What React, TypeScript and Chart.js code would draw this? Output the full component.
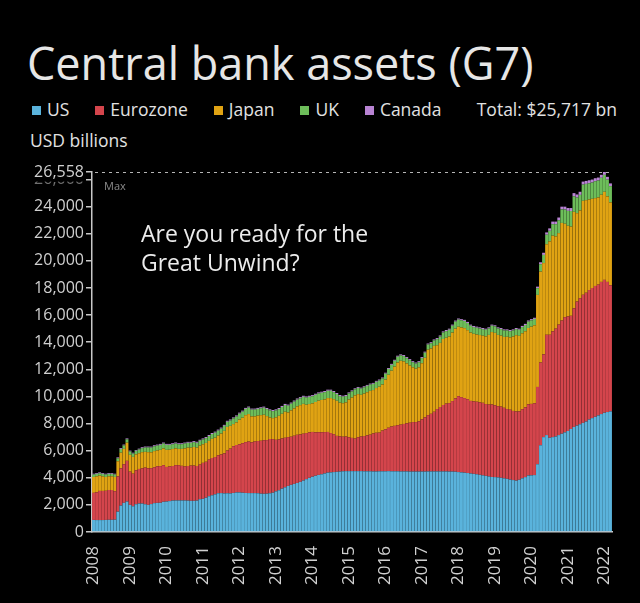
import React, { useEffect, useRef } from "react";
import { Chart, registerables } from "chart.js";

Chart.register(...registerables);

const FONT = '"Open Sans", "Noto Sans", sans-serif';

// Categories: monthly, Jan 2008 .. Mar 2022
const YEARS = [2008, 2009, 2010, 2011, 2012, 2013, 2014, 2015, 2016, 2017, 2018, 2019, 2020, 2021, 2022];
const MONTHS_IN_LAST_YEAR = 3;

// Series values, USD billions (one value per month)
const US = [
  890, 880, 880, 880, 890, 900, 900, 910, 1500, 1950, 2150, 2250,
  2000, 1900, 2050, 2100, 2100, 2050, 2000, 2060, 2130, 2150, 2160, 2230,
  2250, 2280, 2320, 2330, 2330, 2330, 2330, 2320, 2300, 2300, 2320, 2420,
  2450, 2530, 2640, 2710, 2780, 2860, 2870, 2850, 2860, 2850, 2880, 2920,
  2920, 2900, 2880, 2870, 2870, 2870, 2860, 2830, 2820, 2830, 2860, 2900,
  3000, 3080, 3200, 3300, 3400, 3480, 3550, 3620, 3700, 3800, 3900, 4000,
  4080, 4150, 4210, 4260, 4320, 4380, 4400, 4420, 4440, 4460, 4480, 4490,
  4490, 4490, 4490, 4490, 4490, 4480, 4480, 4480, 4470, 4470, 4480, 4480,
  4480, 4490, 4480, 4480, 4480, 4470, 4470, 4470, 4460, 4460, 4460, 4460,
  4460, 4460, 4470, 4470, 4470, 4470, 4470, 4470, 4470, 4460, 4460, 4450,
  4420, 4400, 4380, 4350, 4320, 4290, 4260, 4220, 4180, 4140, 4100, 4060,
  4050, 4030, 4000, 3960, 3920, 3870, 3830, 3790, 3850, 3960, 4050, 4170,
  4180, 4200, 5000, 6400, 7000, 7150, 6950, 7000, 7050, 7150, 7250, 7350,
  7450, 7600, 7750, 7850, 7950, 8050, 8150, 8300, 8400, 8500, 8600, 8700,
  8800, 8850, 8900,
];

const EUROZONE = [
  2000, 2050, 2150, 2150, 2150, 2200, 2200, 2100, 2600, 2750, 2850, 3000,
  2450, 2400, 2500, 2550, 2600, 2700, 2700, 2650, 2650, 2700, 2700, 2700,
  2550, 2550, 2550, 2600, 2600, 2550, 2500, 2550, 2600, 2600, 2550, 2550,
  2650, 2650, 2700, 2750, 2750, 2800, 2850, 2950, 3150, 3300, 3450, 3500,
  3550, 3650, 3750, 3800, 3750, 3800, 3850, 3900, 3950, 3950, 4000, 3950,
  3800, 3750, 3700, 3650, 3600, 3550, 3550, 3550, 3500, 3450, 3400, 3350,
  3300, 3200, 3150, 3100, 3050, 3000, 2900, 2800, 2650, 2600, 2550, 2550,
  2500, 2450, 2400, 2500, 2550, 2600, 2650, 2700, 2800, 2850, 2850, 3000,
  3100, 3200, 3300, 3350, 3400, 3450, 3500, 3550, 3600, 3650, 3650, 3700,
  3850, 4000, 4150, 4250, 4400, 4600, 4750, 4900, 5000, 5050, 5200, 5400,
  5600, 5550, 5500, 5450, 5350, 5350, 5350, 5350, 5350, 5300, 5300, 5350,
  5300, 5250, 5250, 5200, 5150, 5150, 5100, 5100, 5050, 5100, 5150, 5250,
  5270, 5300, 5700, 6100, 6100, 7400, 7600, 7800, 7950, 8150, 8350, 8500,
  8450, 8350, 8750, 9150, 9300, 9450, 9500, 9550, 9600, 9650, 9650, 9750,
  9800, 9600, 9300,
];

const JAPAN = [
  1170, 1180, 1130, 1080, 1020, 1010, 1010, 1050, 1120, 1150, 1130, 1340,
  1240, 1240, 1180, 1160, 1190, 1160, 1190, 1170, 1190, 1170, 1200, 1230,
  1260, 1240, 1250, 1240, 1200, 1250, 1340, 1350, 1320, 1370, 1350, 1400,
  1370, 1390, 1380, 1410, 1430, 1450, 1540, 1660, 1740, 1680, 1630, 1670,
  1820, 1880, 1990, 2030, 1910, 1860, 1870, 1890, 1880, 1770, 1590, 1550,
  1660, 1740, 1820, 1920, 1820, 1940, 2020, 2100, 2160, 2200, 2090, 2090,
  2110, 2240, 2330, 2380, 2410, 2500, 2580, 2580, 2590, 2480, 2470, 2520,
  2780, 2980, 3190, 3180, 3080, 3130, 3180, 3230, 3200, 3300, 3390, 3400,
  3660, 3910, 4120, 4370, 4620, 4710, 4620, 4420, 4230, 4040, 3940, 3990,
  4140, 4390, 4830, 4820, 4860, 4710, 4730, 4870, 4860, 4910, 5050, 5150,
  5120, 5140, 5160, 5090, 5040, 4980, 4960, 4960, 4950, 4990, 5140, 5340,
  5340, 5260, 5240, 5230, 5330, 5340, 5490, 5630, 5570, 5600, 5610, 5630,
  5700, 5750, 6790, 6710, 6740, 6680, 6890, 7060, 6810, 6750, 7200, 6890,
  6690, 6580, 7120, 6520, 6470, 6930, 6830, 6680, 6580, 6480, 6430, 6430,
  6498, 6310, 6117,
];

const UK = [
  180, 180, 180, 180, 180, 180, 180, 180, 220, 280, 260, 250,
  250, 250, 260, 280, 300, 330, 350, 350, 360, 360, 370, 370,
  370, 360, 360, 360, 350, 350, 360, 360, 360, 360, 360, 360,
  360, 360, 360, 360, 370, 370, 370, 370, 380, 400, 420, 430,
  440, 450, 460, 480, 500, 500, 500, 510, 520, 520, 520, 520,
  510, 500, 500, 500, 500, 500, 500, 500, 510, 520, 530, 530,
  530, 530, 530, 530, 540, 540, 540, 520, 500, 490, 480, 470,
  460, 460, 450, 460, 460, 470, 470, 470, 460, 460, 460, 450,
  440, 430, 430, 430, 430, 400, 390, 390, 390, 380, 380, 380,
  380, 380, 380, 390, 400, 450, 470, 480, 490, 500, 510, 520,
  530, 530, 530, 530, 510, 500, 500, 490, 490, 490, 480, 470,
  480, 480, 480, 480, 470, 460, 450, 450, 450, 460, 460, 470,
  470, 470, 500, 550, 600, 700, 780, 850, 900, 950, 1000, 1050,
  1100, 1150, 1150, 1150, 1150, 1200, 1200, 1200, 1200, 1250, 1250, 1250,
  1250, 1230, 1200,
];

const CANADA = [
  60, 60, 60, 60, 60, 60, 60, 60, 65, 65, 60, 65,
  65, 60, 60, 60, 65, 65, 65, 70, 70, 70, 70, 70,
  70, 70, 70, 75, 70, 70, 70, 70, 70, 75, 75, 75,
  75, 75, 75, 75, 75, 75, 75, 75, 75, 75, 75, 80,
  75, 75, 75, 75, 75, 75, 75, 75, 80, 80, 80, 80,
  80, 80, 80, 80, 80, 80, 80, 80, 80, 80, 80, 80,
  80, 80, 80, 80, 80, 80, 80, 80, 75, 75, 75, 75,
  70, 70, 70, 70, 70, 70, 70, 70, 70, 70, 70, 70,
  70, 70, 75, 75, 75, 75, 75, 75, 75, 75, 75, 75,
  75, 75, 75, 75, 75, 75, 80, 80, 80, 80, 80, 80,
  80, 80, 80, 80, 80, 80, 80, 80, 80, 80, 80, 80,
  80, 80, 80, 80, 80, 80, 80, 80, 80, 85, 85, 85,
  85, 85, 110, 140, 160, 170, 180, 190, 190, 200, 200, 210,
  210, 220, 230, 230, 230, 220, 220, 220, 220, 220, 220, 220,
  210, 210, 200,
];

const SERIES_NAMES = ["US", "Eurozone", "Japan", "UK", "Canada"];
const SERIES_COLORS = ["#5ab3dc", "#d4454c", "#e0a313", "#6dbd5a", "#b883d3"];
const Y_TICKS = [0, 2000, 4000, 6000, 8000, 10000, 12000, 14000, 16000, 18000, 20000, 22000, 24000, 26000];

const SERIES = [US, EUROZONE, JAPAN, UK, CANADA];

const LABELS: string[] = [];
YEARS.forEach((y, yi) => {
  const n = yi === YEARS.length - 1 ? MONTHS_IN_LAST_YEAR : 12;
  for (let m = 1; m <= n; m++) LABELS.push(`${y}-${String(m).padStart(2, "0")}`);
});

const TOTALS = LABELS.map((_, i) => SERIES.reduce((s, arr) => s + arr[i], 0));
const MAX_TOTAL = Math.max(...TOTALS);
const LAST_TOTAL = TOTALS[TOTALS.length - 1];

const fmt = (v: number) => v.toLocaleString("en-US");

export default function App() {
  const ref = useRef<HTMLCanvasElement>(null);

  useEffect(() => {
    if (!ref.current) return;
    Chart.defaults.font.family = FONT;

    const overlay = {
      id: "overlay",
      afterDraw(chart: any) {
        const { ctx, chartArea, scales } = chart;
        const y = Math.round(scales.y.getPixelForValue(MAX_TOTAL)) + 0.5;
        ctx.save();
        ctx.strokeStyle = "#b5b5b5";
        ctx.lineWidth = 1;
        ctx.setLineDash([3, 4]);
        ctx.beginPath();
        ctx.moveTo(chartArea.left + 3, y);
        ctx.lineTo(chartArea.right, y);
        ctx.stroke();
        ctx.setLineDash([]);
        ctx.fillStyle = "#8a8a8a";
        ctx.font = `11px ${FONT}`;
        ctx.textBaseline = "alphabetic";
        ctx.fillText("Max", chartArea.left + 12, y + 17);
        ctx.fillStyle = "#ececec";
        ctx.font = `23px ${FONT}`;
        ctx.fillText("Are you ready for the", chartArea.left + 49, y + 69);
        ctx.fillText("Great Unwind?", chartArea.left + 49, y + 98);
        ctx.restore();
      },
    };

    const chart = new Chart(ref.current, {
      type: "bar",
      data: {
        labels: LABELS,
        datasets: SERIES.map((data, i) => ({
          label: SERIES_NAMES[i],
          data,
          backgroundColor: SERIES_COLORS[i],
          borderWidth: 0,
          barPercentage: 0.96,
          categoryPercentage: 1,
          stack: "total",
        })),
      },
      options: {
        animation: false,
        responsive: true,
        maintainAspectRatio: false,
        layout: { padding: { top: 17, right: 28, left: 0, bottom: 0 } },
        plugins: {
          legend: { display: false },
          tooltip: { enabled: false },
          title: { display: false },
        },
        scales: {
          x: {
            stacked: true,
            grid: { display: false },
            border: { display: true, color: "#c8c8c8", width: 1.5 },
            ticks: {
              autoSkip: false,
              maxRotation: 90,
              minRotation: 90,
              color: "#d0d0d0",
              font: { size: 17 },
              padding: 6,
              callback: (_v: any, i: number) => (i % 12 === 0 ? String(YEARS[i / 12]) : ""),
            },
            afterFit: (axis: any) => {
              axis.height = 71;
            },
          },
          y: {
            stacked: true,
            min: 0,
            max: MAX_TOTAL,
            afterBuildTicks: (axis: any) => {
              axis.ticks = [...Y_TICKS.map((v) => ({ value: v })), { value: MAX_TOTAL }];
            },
            grid: {
              display: true,
              drawOnChartArea: false,
              drawTicks: true,
              tickLength: 6,
              color: "#c8c8c8",
              lineWidth: 1.5,
            },
            border: { display: true, color: "#c8c8c8", width: 1.5 },
            ticks: {
              color: (c: any) => (c.tick && c.tick.value === 26000 ? "#707070" : "#d0d0d0"),
              font: { size: 16 },
              padding: 2,
              showLabelBackdrop: (c: any) => !!(c.tick && c.tick.value === MAX_TOTAL),
              backdropColor: "#000",
              backdropPadding: { top: 0, bottom: 0, left: 1, right: 1 },
              callback: (v: any) => fmt(Number(v)),
            },
            afterFit: (axis: any) => {
              axis.width = 92;
            },
          },
        },
      },
      plugins: [overlay],
    } as any);

    return () => chart.destroy();
  }, []);

  const textColor = "#e2e2e2";

  return (
    <div style={{ position: "fixed", inset: 0, background: "#000", fontFamily: FONT, color: textColor, overflow: "hidden" }}>
      <div style={{ position: "absolute", left: 27, top: 40, fontSize: 45, lineHeight: "45px", whiteSpace: "nowrap", color: "#e6e6e6" }}>
        Central bank assets (G7)
      </div>
      <div style={{ position: "absolute", left: 32, top: 101, fontSize: 17.5, lineHeight: "17.5px", display: "flex", alignItems: "center", gap: 26, whiteSpace: "nowrap" }}>
        {SERIES_NAMES.map((n, i) => (
          <div key={n} style={{ display: "flex", alignItems: "center" }}>
            <span style={{ display: "inline-block", width: 9, height: 9, background: SERIES_COLORS[i], marginRight: 6, marginTop: 2 }} />
            <span>{n}</span>
          </div>
        ))}
      </div>
      <div style={{ position: "absolute", right: 23, top: 101, fontSize: 17.5, lineHeight: "17.5px", whiteSpace: "nowrap" }}>
        Total: ${fmt(LAST_TOTAL)} bn
      </div>
      <div style={{ position: "absolute", left: 30, top: 132, fontSize: 17.5, lineHeight: "17.5px", whiteSpace: "nowrap" }}>
        USD billions
      </div>
      <div style={{ position: "absolute", left: 0, top: 155, width: 640, height: 448 }}>
        <canvas ref={ref} />
      </div>
    </div>
  );
}
